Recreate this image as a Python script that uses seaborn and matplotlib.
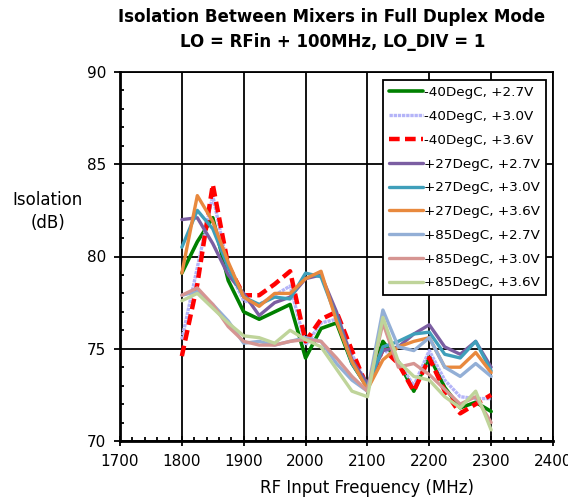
import matplotlib
matplotlib.use("Agg")
import matplotlib.pyplot as plt
from matplotlib.ticker import MultipleLocator
import seaborn as sns
import pandas as pd

freq = [1800, 1825, 1850, 1875, 1900, 1925, 1950, 1975, 2000, 2025, 2050,
        2075, 2100, 2125, 2150, 2175, 2200, 2225, 2250, 2275, 2300]

m40_27 = [79.1, 80.8, 82.1, 78.7, 77.0, 76.6, 77.0, 77.4, 74.5, 76.1, 76.4,
          74.2, 72.9, 75.4, 74.3, 72.7, 74.6, 72.9, 71.8, 72.1, 71.6]
m40_30 = [75.5, 79.4, 83.3, 79.3, 77.6, 77.4, 77.9, 78.4, 75.2, 76.4, 76.6,
          74.7, 73.0, 75.0, 74.3, 73.0, 74.9, 73.3, 72.4, 72.3, 72.3]
m40_36 = [74.6, 78.5, 83.9, 79.5, 77.9, 77.9, 78.5, 79.2, 75.4, 76.6, 77.0,
          74.9, 72.9, 75.0, 74.2, 72.7, 74.5, 72.7, 71.5, 72.0, 72.5]
p27_27 = [82.0, 82.1, 80.7, 79.0, 78.0, 76.8, 77.5, 77.8, 78.8, 79.0, 77.0,
          74.4, 73.1, 74.9, 75.1, 75.8, 76.3, 75.1, 74.7, 75.4, 74.0]
p27_30 = [80.5, 82.5, 81.5, 79.4, 77.8, 77.4, 77.8, 77.7, 79.1, 78.9, 76.7,
          74.2, 72.9, 75.1, 75.4, 75.8, 75.9, 74.7, 74.5, 75.4, 73.8]
p27_36 = [79.1, 83.3, 81.9, 79.7, 77.8, 77.3, 78.0, 78.0, 78.8, 79.2, 76.5,
          74.3, 72.8, 74.4, 75.1, 75.4, 75.6, 74.0, 74.0, 74.8, 73.7]
p85_27 = [77.9, 78.1, 77.4, 76.5, 75.3, 75.4, 75.2, 75.4, 75.6, 75.4, 74.2,
          73.3, 72.7, 77.1, 75.1, 74.9, 75.6, 74.0, 73.5, 74.2, 73.5]
p85_30 = [77.9, 78.3, 77.4, 76.2, 75.4, 75.2, 75.2, 75.4, 75.5, 75.4, 74.5,
          73.5, 72.7, 76.4, 74.0, 74.2, 73.6, 72.8, 72.0, 72.4, 71.0]
p85_36 = [77.6, 78.0, 77.2, 76.4, 75.7, 75.6, 75.3, 76.0, 75.5, 75.1, 73.9,
          72.7, 72.4, 76.7, 74.3, 73.5, 73.3, 72.4, 71.8, 72.7, 70.6]

labels = ["-40DegC, +2.7V", "-40DegC, +3.0V", "-40DegC, +3.6V",
          "+27DegC, +2.7V", "+27DegC, +3.0V", "+27DegC, +3.6V",
          "+85DegC, +2.7V", "+85DegC, +3.0V", "+85DegC, +3.6V"]
series = [m40_27, m40_30, m40_36, p27_27, p27_30, p27_36, p85_27, p85_30, p85_36]

colors = ["#008000", "#b4b4f8", "#ff0000", "#7b5ea2", "#3f9fba", "#e8893e",
          "#93afd6", "#d69592", "#bfd49a"]
styles = ["-", (0, (1, 0.25)), (0, (2.4, 1.2)), "-", "-", "-", "-", "-", "-"]
widths = [2.6, 2.4, 3.2, 2.4, 2.4, 2.4, 2.4, 2.4, 2.4]

sns.set_style("white")
plt.rcParams["font.family"] = ["DejaVu Sans"]
plt.rcParams["text.color"] = "black"
plt.rcParams["xtick.color"] = "black"
plt.rcParams["ytick.color"] = "black"
plt.rcParams["axes.labelcolor"] = "black"
plt.rcParams["lines.solid_joinstyle"] = "round"
plt.rcParams["lines.dash_joinstyle"] = "round"

fig = plt.figure(figsize=(5.68, 4.99), dpi=100)
ax = fig.add_axes([120 / 568, 1 - 441 / 499, 433 / 568, 369 / 499])

for s, lab, c, ls, lw in zip(series, labels, colors, styles, widths):
    df = pd.DataFrame({"freq": freq, "iso": s})
    sns.lineplot(data=df, x="freq", y="iso", color=c, linestyle=ls,
                 linewidth=lw, label=lab, ax=ax)

ax.set_xlim(1700, 2400)
ax.set_ylim(70, 90)
ax.xaxis.set_major_locator(MultipleLocator(100))
ax.xaxis.set_minor_locator(MultipleLocator(20))
ax.yaxis.set_major_locator(MultipleLocator(5))
ax.yaxis.set_minor_locator(MultipleLocator(1))
ax.grid(True, which="major", color="black", linewidth=1.3)
ax.set_axisbelow(True)
for sp in ax.spines.values():
    sp.set_color("black")
    sp.set_linewidth(1.3)
ax.spines["left"].set_linewidth(2)
ax.spines["bottom"].set_linewidth(2)

ax.tick_params(axis="x", which="major", direction="inout", length=7, width=1.3,
               labelsize=11, pad=6, bottom=True, colors="black")
ax.tick_params(axis="x", which="minor", direction="in", length=3, width=1.3,
               bottom=True, colors="black")
ax.tick_params(axis="y", which="major", direction="out", length=4, width=1.3,
               labelsize=11, pad=6, left=True, colors="black")
ax.tick_params(axis="y", which="minor", direction="in", length=3, width=1.3,
               left=True, colors="black")
ax.set_xlabel("")
ax.set_ylabel("")

leg = ax.legend(loc="upper right", bbox_to_anchor=(0.984, 0.978),
                borderaxespad=0, fontsize=9.7, handlelength=2.5,
                handletextpad=0.1, labelspacing=0.8, frameon=True,
                fancybox=False, edgecolor="black", framealpha=1,
                borderpad=0.45)
leg.get_frame().set_linewidth(1.3)
for t in leg.get_texts():
    t.set_color("black")

fig.text(332 / 568, 1 - 17 / 499, "Isolation Between Mixers in Full Duplex Mode",
         ha="center", va="center", fontsize=12, fontweight="bold")
fig.text(333 / 568, 1 - 42 / 499, "LO = RFin + 100MHz, LO_DIV = 1",
         ha="center", va="center", fontsize=12, fontweight="bold")
fig.text(48 / 568, 1 - 200 / 499, "Isolation", ha="center", va="center", fontsize=12)
fig.text(48 / 568, 1 - 223 / 499, "(dB)", ha="center", va="center", fontsize=12)
fig.text(367 / 568, 1 - 488 / 499, "RF Input Frequency (MHz)", ha="center",
         va="center", fontsize=12)

fig.savefig("out.png", dpi=100)
